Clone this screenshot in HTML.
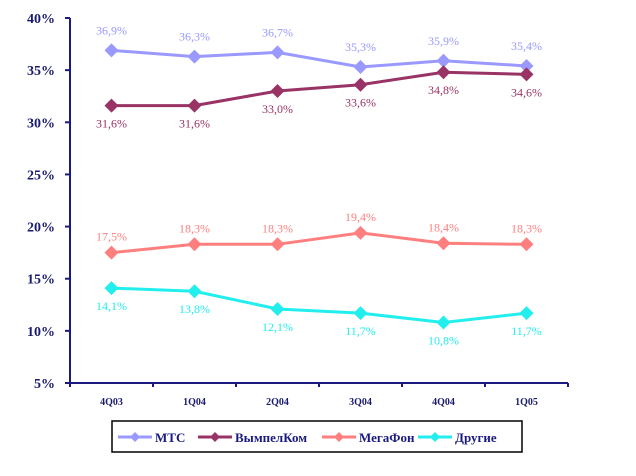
<!DOCTYPE html>
<html><head><meta charset="utf-8"><style>
body{margin:0;background:#fff;width:636px;height:471px;overflow:hidden}
svg text{font-family:"Liberation Serif",serif}
</style></head><body>
<svg id="c" width="636" height="471"></svg>
<script>
const categories=["4Q03","1Q04","2Q04","3Q04","4Q04","1Q05"];
const mts=[36.9,36.3,36.7,35.3,35.9,35.4];
const beeline=[31.6,31.6,33.0,33.6,34.8,34.6];
const megafon=[17.5,18.3,18.3,19.4,18.4,18.3];
const others=[14.1,13.8,12.1,11.7,10.8,11.7];
const yTicks=[5,10,15,20,25,30,35,40];
const seriesNames=["МТС","ВымпелКом","МегаФон","Другие"];
const NS="http://www.w3.org/2000/svg";
const svg=document.getElementById('c');
const x0=70,x1=568,yTop=18,yBot=383;
const band=83;
function xs(i){return x0+band*(i+0.5);}
function ys(v){return yBot-(v-5)/35*(yBot-yTop);}
function el(t,a,p){const e=document.createElementNS(NS,t);for(const k in a)e.setAttribute(k,a[k]);(p||svg).appendChild(e);return e;}
const ax=el('g',{});


el('line',{x1:x0,y1:yTop,x2:x0,y2:yBot,stroke:'#1a1a80','stroke-width':2},ax);
el('line',{x1:x0,y1:yBot,x2:x1,y2:yBot,stroke:'#1a1a80','stroke-width':2},ax);
yTicks.forEach(v=>{
  el('line',{x1:x0-5,y1:ys(v),x2:x0,y2:ys(v),stroke:'#1a1a80','stroke-width':2},ax);
  const t=el('text',{x:x0-15,y:ys(v)+5,'text-anchor':'end','font-size':14,'font-weight':'bold',fill:'#1a1a70'},ax);
  t.textContent=v+'%';
  
  
});
for(let i=0;i<=categories.length;i++)el('line',{x1:x0+band*i,y1:yBot,x2:x0+band*i,y2:yBot+4,stroke:'#1a1a80','stroke-width':2},ax);
categories.forEach((c,i)=>{
  const t=el('text',{x:xs(i),y:yBot+22,'text-anchor':'middle','font-size':10,'font-weight':'bold',fill:'#1a1a70'},ax);
  t.textContent=c;
  
  
});
const series=[[mts,'#9999ff',-16],[beeline,'#993366',22],[megafon,'#ff7f7f',-12],[others,'#22eeee',22]];
const names=['mts','beeline','megafon','others'];
series.forEach(([d,col,off],s)=>{
  const g=el('g',{});
  
  
  el('polyline',{points:d.map((v,i)=>xs(i)+','+ys(v)).join(' '),fill:'none',stroke:col,'stroke-width':3},g);
  d.forEach((v,i)=>{
    const x=xs(i),y=ys(v);
    const m=el('polygon',{points:`${x},${y-7} ${x+7},${y} ${x},${y+7} ${x-7},${y}`,fill:col},g);
    
    
    const t=el('text',{x:x,y:y+off,'text-anchor':'middle','font-size':12,fill:col},g);
    t.textContent=v.toFixed(1).replace('.',',')+'%';
    
    
  });
});
const lg=el('g',{});


el('rect',{x:112,y:421,width:410,height:31,fill:'#fff',stroke:'#000','stroke-width':1.5},lg);
const lx=[118,198,322,418];
seriesNames.forEach((n,s)=>{
  const g=el('g',{},lg);
  
  
  const col=series[s][1],x=lx[s],y=437;
  el('line',{x1:x,y1:y,x2:x+34,y2:y,stroke:col,'stroke-width':3},g);
  el('polygon',{points:`${x+17},${y-5} ${x+22},${y} ${x+17},${y+5} ${x+12},${y}`,fill:col},g);
  const t=el('text',{x:x+37,y:y+5,'font-size':13,'font-weight':'bold',fill:'#1a1a80'},g);
  t.textContent=n;
});
</script>
</body></html>
